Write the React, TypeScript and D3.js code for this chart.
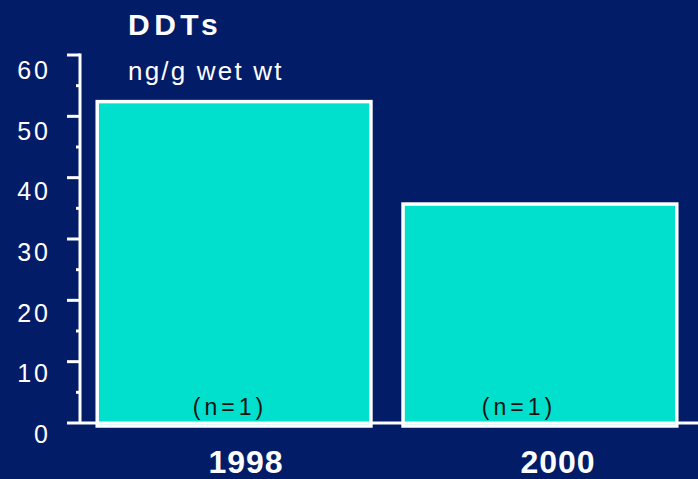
import React from "react";
import * as d3 from "d3";

const categories = ["1998", "2000"];
const values = [52.4, 35.7];
const sampleLabels = ["(n=1)", "(n=1)"];
const yTicks = [0, 10, 20, 30, 40, 50, 60];
const minorTicks = [5, 15, 25, 35, 45, 55];

const W = 698;
const H = 479;
const BG = "#021c68";
const TEAL = "#00e0cc";

export default function App() {
  const y = d3.scaleLinear().domain([0, 60]).range([423, 55]);
  const yLab = d3.scaleLinear().domain([0, 60]).range([443, 79]);
  const x = d3
    .scaleBand<string>()
    .domain(categories)
    .range([81, 693])
    .paddingInner(0.105)
    .paddingOuter(0.053);
  const xN = d3.scalePoint<string>().domain(categories).range([230, 519]);
  const xYear = d3.scalePoint<string>().domain(categories).range([246, 558]);
  const axisX = 80;
  const font = "Liberation Sans, Arial, sans-serif";

  return (
    <div style={{ position: "fixed", left: 0, top: 0 }}>
      <svg width={W} height={H} style={{ display: "block" }}>
        <rect width={W} height={H} fill={BG} />
        {/* title */}
        <text x={128} y={35} fill="white" fontFamily={font} fontWeight="bold" fontSize={30} letterSpacing={4.5}>
          DDTs
        </text>
        <text x={128} y={80} fill="white" fontFamily={font} fontSize={26} letterSpacing={2.2}>
          ng/g wet wt
        </text>
        {/* bars */}
        {categories.map((c, i) => (
          <g key={c}>
            <rect
              x={x(c)!}
              y={y(values[i])}
              width={x.bandwidth()}
              height={y(0) - y(values[i]) + 3}
              fill={TEAL}
              stroke="white"
              strokeWidth={3.5}
            />
            <text
              x={xN(c)!}
              y={415}
              textAnchor="middle"
              fill="#111"
              fontFamily={font}
              fontSize={23}
              letterSpacing={4}
            >
              {sampleLabels[i]}
            </text>
            <text
              x={xYear(c)!}
              y={473}
              textAnchor="middle"
              fill="white"
              fontFamily={font}
              fontWeight="bold"
              fontSize={32}
              letterSpacing={1}
            >
              {c}
            </text>
          </g>
        ))}
        {/* axis */}
        <line x1={axisX} x2={axisX} y1={y(60) - 1.5} y2={y(0)} stroke="white" strokeWidth={3} />
        <line x1={67} x2={W} y1={y(0)} y2={y(0)} stroke="white" strokeWidth={3} />
        {yTicks.map((t) => (
          <g key={t}>
            {t > 0 && <line x1={67} x2={axisX} y1={y(t)} y2={y(t)} stroke="white" strokeWidth={3} />}
            <text
              x={51}
              y={yLab(t)}
              textAnchor="end"
              fill="white"
              fontFamily={font}
              fontSize={25}
              letterSpacing={3}
            >
              {t}
            </text>
          </g>
        ))}
        {minorTicks.map((t) => (
          <line key={t} x1={76} x2={axisX} y1={y(t)} y2={y(t)} stroke="white" strokeWidth={3} />
        ))}
      </svg>
    </div>
  );
}
